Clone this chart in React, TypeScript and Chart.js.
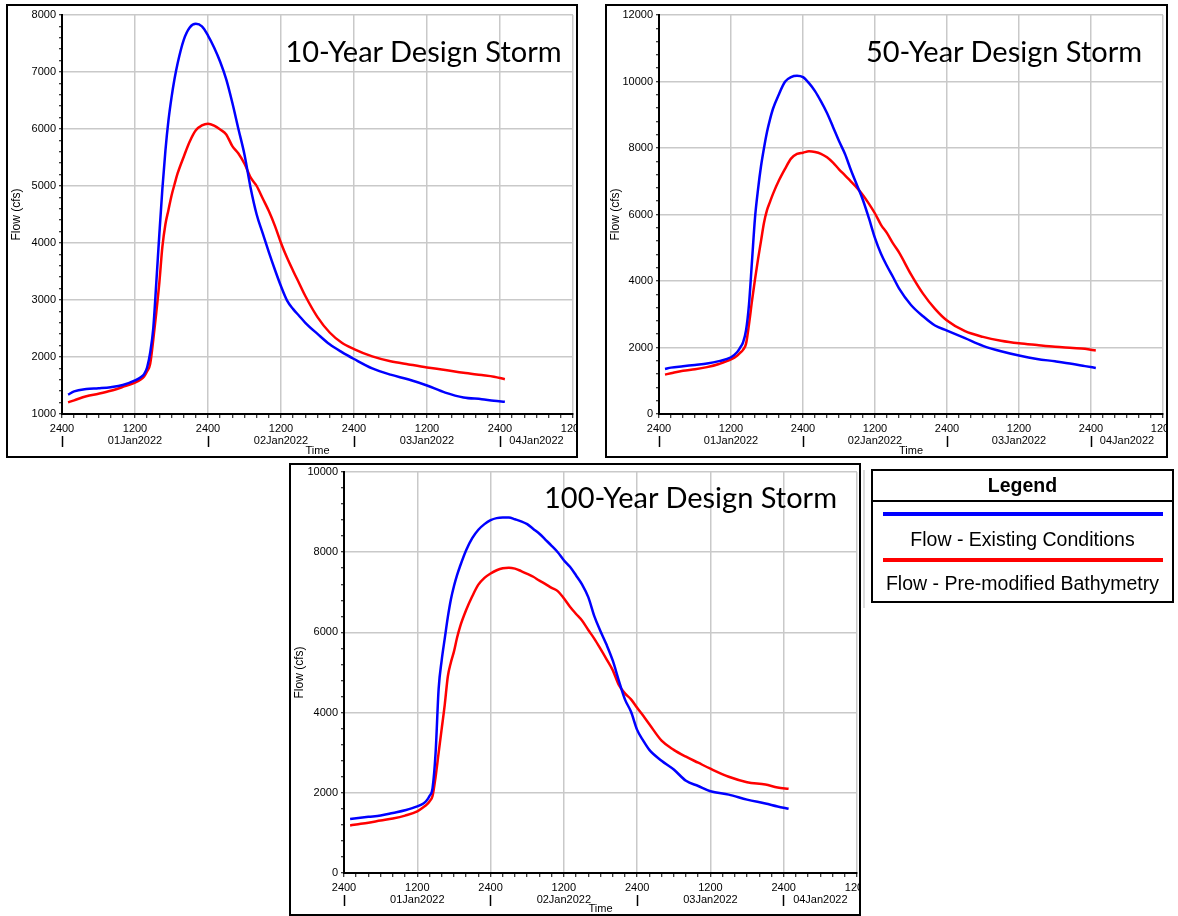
import React, { useEffect, useRef } from 'react';
import { Chart, registerables } from 'chart.js';

Chart.register(...registerables);

// ---- Hydrograph data (hours after 31Dec2022 2400, flow in cfs) ----
const stormHours = [
  1, 2, 4, 6, 8, 10, 12,
  13, 13.5, 14, 14.5, 15, 15.5, 16, 16.5, 17, 17.5, 18, 18.5, 19,
  20, 21, 22, 23, 24, 25, 26, 27, 28, 29, 30, 31, 32, 33, 34, 35, 36, 37, 38, 39, 40,
  42, 44, 46, 48,
  51, 54, 57, 60, 63, 66, 69, 71, 72.8,
];

const existing10 = [
  1340, 1396, 1437, 1452, 1471, 1508, 1590,
  1650, 1700, 1820, 2080, 2500, 3300, 4150, 4950, 5620, 6150, 6550, 6880, 7150,
  7560, 7780, 7845, 7800, 7640, 7430, 7180, 6870, 6460, 6000, 5550, 4970, 4500, 4170, 3840, 3530, 3240, 2990, 2840, 2720, 2600,
  2405, 2222, 2085, 1965,
  1800, 1690, 1605, 1500, 1375, 1290, 1260, 1232, 1215,
];

const premod10 = [
  1204, 1240, 1310, 1355, 1407, 1475, 1550,
  1610, 1660, 1750, 1880, 2300, 2780, 3300, 3930, 4330, 4580, 4830, 5030, 5220,
  5510, 5780, 5976, 6063, 6093, 6060, 5990, 5905, 5700, 5570, 5390, 5150, 5000, 4780, 4560, 4300, 4000, 3740, 3510, 3290, 3070,
  2700, 2430, 2250, 2140,
  2010, 1925, 1870, 1817, 1772, 1722, 1683, 1655, 1611,
];

const existing50 = [
  1355, 1395, 1435, 1476, 1516, 1590, 1707,
  1857, 1990, 2150, 2510, 3300, 4600, 5900, 6750, 7450, 8000, 8480, 8860, 9180,
  9620, 9990, 10130, 10170, 10130, 9950, 9710, 9400, 9050, 8634, 8210, 7820, 7330, 6880, 6430, 5880, 5290, 4820, 4450, 4120, 3780,
  3280, 2940, 2661, 2510,
  2280, 2048, 1885, 1757, 1655, 1585, 1506, 1440, 1386,
];

const premod50 = [
  1185, 1225, 1300, 1345, 1410, 1505, 1640,
  1750, 1840, 1930, 2108, 2700, 3400, 4050, 4650, 5200, 5750, 6130, 6380, 6620,
  7028, 7370, 7680, 7820, 7860, 7900, 7880, 7825, 7720, 7560, 7360, 7180, 6990, 6800, 6580, 6320, 6030, 5690, 5440, 5130, 4860,
  4200, 3620, 3163, 2811,
  2490, 2320, 2205, 2128, 2075, 2025, 1988, 1960, 1908,
];

const hours100 = [
  1, 2, 4, 6, 8, 10, 12,
  13, 13.5, 14, 14.5, 15, 15.5, 16, 16.5, 17, 17.5, 18, 18.5, 19,
  20, 21, 22, 23, 24, 25, 26, 27, 28, 29, 30, 31, 32, 33, 34, 35, 36, 37, 38, 39, 40,
  41, 42, 43, 44, 45, 46, 47, 48, 49, 50,
  52, 54, 56, 58, 60,
  63, 66, 69, 71, 72.8,
];

const existing100 = [
  1345, 1365, 1400, 1432, 1497, 1565, 1660,
  1735, 1800, 1920, 2117, 3000, 4600, 5310, 5850, 6380, 6820, 7150, 7420, 7650,
  8051, 8350, 8560, 8700, 8798, 8850, 8864, 8864, 8820, 8770, 8700, 8580, 8460, 8310, 8160, 8000, 7800, 7636, 7420, 7190, 6880,
  6400, 6030, 5690, 5300, 4800, 4330, 4020, 3569, 3300, 3070,
  2800, 2580, 2300, 2170, 2040,
  1955, 1830, 1733, 1660, 1602,
];

const premod100 = [
  1187, 1210, 1255, 1308, 1358, 1430, 1536,
  1640, 1700, 1785, 1920, 2400, 3000, 3600, 4200, 4900, 5250, 5520, 5860, 6140,
  6557, 6900, 7190, 7360, 7470, 7550, 7600, 7615, 7590, 7530, 7460, 7387, 7290, 7205, 7110, 7030, 6850, 6640, 6460, 6290, 6060,
  5840, 5590, 5330, 5060, 4690, 4480, 4330, 4120, 3920, 3710,
  3300, 3071, 2900, 2750, 2600,
  2400, 2265, 2205, 2133, 2100,
];

// ---- Time axis labels ----
const dayBoundaryHours = [0, 24, 48, 72];
const dateTickHours = [12, 36, 60, 78];
const dateLabels = ['01Jan2022', '02Jan2022', '03Jan2022', '04Jan2022'];
const AXIS_END_HOURS = 84;

const seriesNames = ['Flow - Existing Conditions', 'Flow - Pre-modified Bathymetry'];
const BLUE = '#0000ff';
const RED = '#ff0000';
const GRID = '#c9c9c9';
const AXIS_FONT = '"Liberation Sans", Arial, sans-serif';
const CLEAR = 'rgba(0,0,0,0)';

type StormProps = {
  hours: number[];
  existing: number[];
  premod: number[];
  yMin: number;
  yMax: number;
  yMajor: number;
  yMinor: number;
  width: number;
  height: number;
  axisWidth: number;
  padRight: number;
  padTop: number;
  xHeight: number;
  x2Height: number;
};

function StormChart(p: StormProps) {
  const ref = useRef<HTMLCanvasElement>(null);

  useEffect(() => {
    const canvas = ref.current;
    if (!canvas) return;
    const tickFont = { family: AXIS_FONT, size: 11, lineHeight: 1 };

    const chart = new Chart(canvas, {
      type: 'line',
      data: {
        datasets: [
          {
            label: seriesNames[0],
            data: p.hours.map((h, i) => ({ x: h, y: p.existing[i] })),
            borderColor: BLUE,
            backgroundColor: BLUE,
          },
          {
            label: seriesNames[1],
            data: p.hours.map((h, i) => ({ x: h, y: p.premod[i] })),
            borderColor: RED,
            backgroundColor: RED,
          },
        ],
      },
      options: {
        animation: false,
        responsive: false,
        devicePixelRatio: 1,
        layout: { padding: { left: 0, right: p.padRight, top: p.padTop, bottom: 0 } },
        elements: {
          point: { radius: 0 },
          line: { borderWidth: 2.5, cubicInterpolationMode: 'monotone' },
        },
        plugins: { legend: { display: false }, tooltip: { enabled: false } },
        scales: {
          x: {
            type: 'linear',
            position: 'bottom',
            weight: 0,
            min: 0,
            max: AXIS_END_HOURS,
            afterBuildTicks: (s: any) => {
              const t = [];
              for (let v = 0; v <= AXIS_END_HOURS; v += 2) t.push({ value: v });
              s.ticks = t;
            },
            ticks: {
              autoSkip: false,
              maxRotation: 0,
              padding: 5,
              color: '#000',
              font: tickFont,
              callback: (v: any) => (v % 24 === 0 ? '2400' : v % 12 === 0 ? '1200' : ''),
            },
            grid: {
              color: (c: any) => (c.tick && c.tick.value % 12 === 0 ? GRID : CLEAR),
              lineWidth: 1.5,
              tickLength: 4,
              tickColor: '#000',
              tickWidth: 1,
            },
            border: { display: true, color: '#000', width: 2 },
            afterFit: (s: any) => {
              s.height = p.xHeight;
              s.paddingLeft = 0;
              s.paddingRight = 0;
            },
          },
          x2: {
            type: 'linear',
            position: 'bottom',
            weight: 1,
            min: 0,
            max: AXIS_END_HOURS,
            afterBuildTicks: (s: any) => {
              s.ticks = [...dayBoundaryHours, ...dateTickHours]
                .sort((a, b) => a - b)
                .map((v) => ({ value: v }));
            },
            ticks: {
              autoSkip: false,
              maxRotation: 0,
              padding: -12,
              color: '#000',
              font: tickFont,
              callback: (v: any) => {
                const i = dateTickHours.indexOf(v);
                return i >= 0 ? dateLabels[i] : '';
              },
            },
            grid: {
              drawOnChartArea: false,
              drawTicks: true,
              tickLength: 11,
              tickWidth: 1.5,
              tickColor: (c: any) =>
                c.tick && dayBoundaryHours.includes(c.tick.value) ? '#000' : CLEAR,
            },
            border: { display: false },
            title: {
              display: true,
              text: 'Time',
              color: '#000',
              font: { family: AXIS_FONT, size: 11, lineHeight: 1 },
              padding: { top: 0, bottom: 0 },
            },
            afterFit: (s: any) => {
              s.height = p.x2Height;
              s.paddingLeft = 0;
              s.paddingRight = 0;
            },
          },
          y: {
            type: 'linear',
            min: p.yMin,
            max: p.yMax,
            afterBuildTicks: (s: any) => {
              const t = [];
              for (let v = p.yMin; v <= p.yMax; v += p.yMinor) t.push({ value: v });
              s.ticks = t;
            },
            ticks: {
              autoSkip: false,
              padding: 3,
              color: '#000',
              font: tickFont,
              callback: (v: any) => (v % p.yMajor === 0 ? String(v) : ''),
            },
            grid: {
              color: (c: any) => (c.tick && c.tick.value % p.yMajor === 0 ? GRID : CLEAR),
              lineWidth: 1.5,
              tickLength: 3,
              tickColor: '#000',
              tickWidth: 1,
            },
            border: { display: true, color: '#000', width: 2 },
            title: {
              display: true,
              text: 'Flow (cfs)',
              color: '#000',
              font: { family: AXIS_FONT, size: 12, lineHeight: 1 },
              padding: { top: 3, bottom: 0 },
            },
            afterFit: (s: any) => {
              s.width = p.axisWidth;
              s.paddingTop = 0;
              s.paddingBottom = 0;
            },
          },
        },
      },
    } as any);

    return () => chart.destroy();
  }, []);

  return (
    <canvas
      ref={ref}
      width={p.width}
      height={p.height}
      style={{ display: 'block', width: p.width, height: p.height }}
    />
  );
}

const frame = (left: number, top: number, width: number, height: number): React.CSSProperties => ({
  position: 'absolute',
  left,
  top,
  width,
  height,
  border: '2px solid #000',
  boxSizing: 'border-box',
  overflow: 'hidden',
  background: '#fff',
});

const titleStyle = (cx: number, top: number): React.CSSProperties => ({
  position: 'absolute',
  left: cx,
  top,
  transform: 'translateX(-50%)',
  fontFamily: 'Lato, "Open Sans", sans-serif',
  fontSize: 29,
  lineHeight: '29px',
  color: '#000',
  whiteSpace: 'nowrap',
});

const legendText: React.CSSProperties = {
  position: 'absolute',
  left: 0,
  right: 0,
  textAlign: 'center',
  fontFamily: '"Liberation Sans", Arial, sans-serif',
  fontSize: 19.5,
  color: '#000',
  whiteSpace: 'nowrap',
};

export default function App() {
  return (
    <div
      style={{
        position: 'absolute',
        left: 0,
        top: 0,
        width: 1178,
        height: 916,
        background: '#fff',
        overflow: 'hidden',
      }}
    >
      <div style={frame(6, 4, 572, 454)}>
        <StormChart
          hours={stormHours}
          existing={existing10}
          premod={premod10}
          yMin={1000}
          yMax={8000}
          yMajor={1000}
          yMinor={200}
          width={568}
          height={450}
          axisWidth={54}
          padRight={3}
          padTop={9}
          xHeight={22}
          x2Height={20}
        />
      </div>
      <div style={titleStyle(423.5, 36)}>10-Year Design Storm</div>

      <div style={frame(605, 4, 563, 454)}>
        <StormChart
          hours={stormHours}
          existing={existing50}
          premod={premod50}
          yMin={0}
          yMax={12000}
          yMajor={2000}
          yMinor={400}
          width={559}
          height={450}
          axisWidth={52}
          padRight={3}
          padTop={9}
          xHeight={22}
          x2Height={20}
        />
      </div>
      <div style={titleStyle(1004, 36)}>50-Year Design Storm</div>

      <div style={frame(289, 463, 572, 453)}>
        <StormChart
          hours={hours100}
          existing={existing100}
          premod={premod100}
          yMin={0}
          yMax={10000}
          yMajor={2000}
          yMinor={400}
          width={568}
          height={449}
          axisWidth={53}
          padRight={2}
          padTop={7}
          xHeight={22}
          x2Height={19}
        />
      </div>
      <div style={titleStyle(690.5, 482)}>100-Year Design Storm</div>

      <div
        style={{
          position: 'absolute',
          left: 863,
          top: 470,
          width: 2,
          height: 138,
          background: '#dcdcdc',
        }}
      />

      <div style={frame(871, 469, 303, 134)}>
        <div
          style={{
            position: 'absolute',
            left: 0,
            right: 0,
            top: 0,
            height: 29,
            lineHeight: '29px',
            borderBottom: '2px solid #000',
            textAlign: 'center',
            fontFamily: '"Liberation Sans", Arial, sans-serif',
            fontWeight: 'bold',
            fontSize: 19.5,
            color: '#000',
          }}
        >
          Legend
        </div>
        <div style={{ position: 'absolute', left: 10, width: 280, top: 41, height: 4, background: BLUE }} />
        <div style={{ ...legendText, top: 56, height: 24, lineHeight: '24px' }}>{seriesNames[0]}</div>
        <div style={{ position: 'absolute', left: 10, width: 280, top: 87, height: 4, background: RED }} />
        <div style={{ ...legendText, top: 100, height: 24, lineHeight: '24px' }}>{seriesNames[1]}</div>
      </div>
    </div>
  );
}
